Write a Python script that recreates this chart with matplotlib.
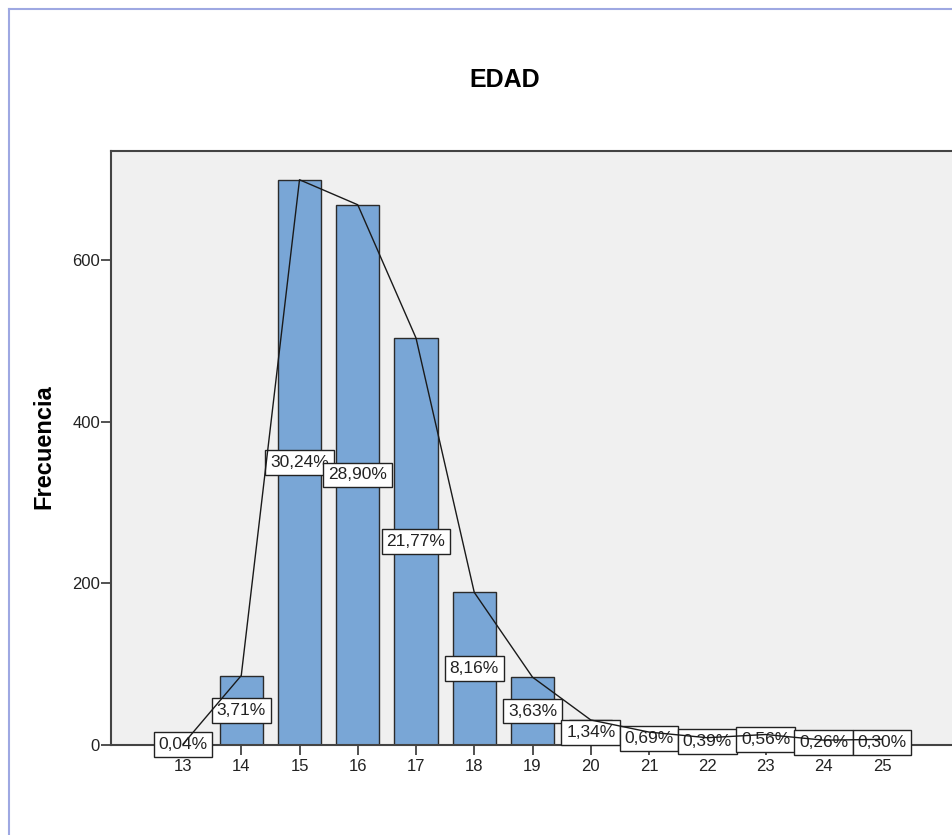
import matplotlib
matplotlib.use("Agg")
import matplotlib.pyplot as plt
from matplotlib.lines import Line2D

plt.rcParams['font.family'] = ['Liberation Sans', 'DejaVu Sans']

# datos de la tabla de frecuencias EDAD
edades = [13, 14, 15, 16, 17, 18, 19, 20, 21, 22, 23, 24, 25]
frecuencias = [1, 86, 700, 669, 504, 189, 84, 31, 16, 9, 13, 6, 7]
porcentajes = ["0,04%", "3,71%", "30,24%", "28,90%", "21,77%", "8,16%", "3,63%",
               "1,34%", "0,69%", "0,39%", "0,56%", "0,26%", "0,30%"]
yticks = [0, 200, 400, 600]

fig = plt.figure(figsize=(9.52, 8.35), dpi=100)
fig.patch.set_facecolor("white")

# marco del visor (lineas azules arriba y a la izquierda)
fig.add_artist(Line2D([8.5 / 952, 8.5 / 952], [0, 1 - 8.5 / 835], transform=fig.transFigure,
                      color="#9ea8e2", lw=1.5))
fig.add_artist(Line2D([8.5 / 952, 1], [1 - 8.5 / 835, 1 - 8.5 / 835], transform=fig.transFigure,
                      color="#9ea8e2", lw=1.5))

ax = fig.add_axes([111 / 952, 90 / 835, (1010 - 111) / 952, 594 / 835])
ax.set_facecolor("#f0f0f0")

ax.bar(edades, frecuencias, width=0.74, color="#79a6d6", edgecolor="#2b2b2b", linewidth=1, zorder=2)
ax.plot(edades, frecuencias, color="#1a1a1a", linewidth=1, zorder=5)

for x, f, p in zip(edades, frecuencias, porcentajes):
    ax.text(x, f / 2, p, ha="center", va="center", fontsize=12.5, color="#222222", zorder=4,
            bbox=dict(boxstyle="square,pad=0.28", facecolor="white", edgecolor="#222222", linewidth=1))

ax.set_xlim(11.764, 27.197)
ax.set_ylim(0, 735.6)
ax.set_xticks(edades)
ax.set_xticklabels([str(e) for e in edades])
ax.set_yticks(yticks)
ax.tick_params(axis="both", direction="out", length=7, width=1.2, color="#333333",
               labelsize=12, labelcolor="#222222")
ax.tick_params(axis="x", pad=3)
ax.tick_params(axis="y", pad=1)

for s in ["left", "top", "bottom"]:
    ax.spines[s].set_color("#444444")
    ax.spines[s].set_linewidth(1.5)
ax.spines["right"].set_visible(False)

fig.text(505 / 952, 1 - 80 / 835, "EDAD", ha="center", va="center", fontsize=18, fontweight="bold")
fig.text(44 / 952, 1 - 447 / 835, "Frecuencia", ha="center", va="center", rotation=90,
         fontsize=17, fontweight="bold")

fig.savefig("out.png", dpi=100)
